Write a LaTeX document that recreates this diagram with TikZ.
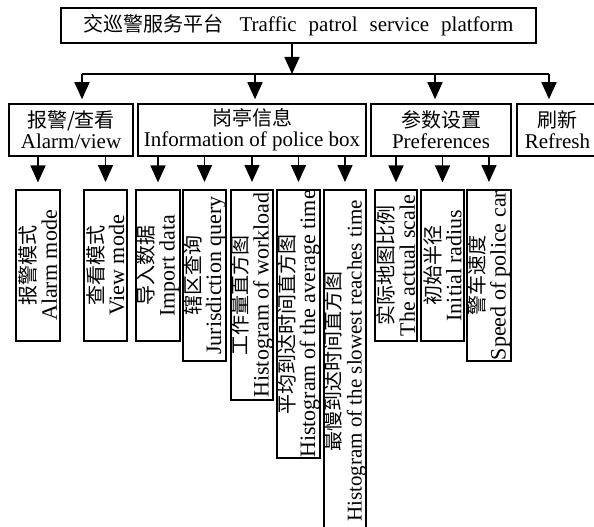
\documentclass[tikz,border=0pt]{standalone}
\usepackage{fontspec}
\setmainfont{Liberation Serif}
\newfontfamily\cjk{Noto Sans CJK SC}
\usetikzlibrary{arrows.meta}
\newcommand\zh[1]{{\cjk\fontsize{20}{21}\selectfont #1}}
\begin{document}
\begin{tikzpicture}[x=1pt,y=-1pt,
  box/.style={draw, line width=1.6pt, inner sep=0pt, align=center,
    font=\fontsize{21}{21}\selectfont},
  thickbox/.style={box, line width=2pt},
  thinbox/.style={box, line width=1.2pt},
  vbox/.style={rotate=90, font=\fontsize{22}{21}\selectfont},
  arr/.style={line width=1.6pt, -{Triangle[width=15pt,length=17pt]}},
  bar/.style={line width=1.6pt}
]
\useasboundingbox (0,0) rectangle (594,527);

% level 0
\node[thickbox, minimum width=475pt, minimum height=35pt] (top) at (298.5,25.5)
  {\zh{交巡警服务平台}\hspace{16pt}{\spaceskip=12pt Traffic patrol service platform}};

% level 1
\node[box, minimum width=124pt, minimum height=52pt] (l2a) at (71,130)
  {\zh{报警/查看}\\Alarm/view};
\node[box, minimum width=228pt, minimum height=52pt] (l2b) at (252,130)
  {\zh{岗亭信息}\\Information of police box};
\node[box, minimum width=140pt, minimum height=52pt] (l2c) at (441,130)
  {\zh{参数设置}\\Preferences};
\node[box, minimum width=81pt, minimum height=52pt] (l2d) at (557.5,130)
  {\zh{刷新}\\Refresh};

% level 2 (rotated)
\node[thinbox, vbox, minimum width=151pt, minimum height=44pt] (l3a) at (38,265.5)
  {\zh{报警模式}\\Alarm mode};
\node[thickbox, vbox, minimum width=151pt, minimum height=43pt] (l3b) at (105.5,265.5)
  {\zh{查看模式}\\View mode};
\node[thinbox, vbox, minimum width=151pt, minimum height=44pt] (l3c) at (158,265.5)
  {\zh{导入数据}\\Import data};
\node[thickbox, vbox, minimum width=171pt, minimum height=43pt] (l3d) at (204.5,275.5)
  {\zh{辖区查询}\\Jurisdiction query};
\node[thickbox, vbox, minimum width=210pt, minimum height=42pt] (l3e) at (252,295)
  {\zh{工作量直方图}\\Histogram of workload};
\node[thickbox, vbox, minimum width=268pt, minimum height=43pt] (l3f) at (298.5,324)
  {\zh{平均到达时间直方图}\\Histogram of the average time};
\node[thickbox, vbox, minimum width=342pt, minimum height=42pt,
  font=\fontsize{21}{21}\selectfont] (l3g) at (345,361)
  {\zh{最慢到达时间直方图}\\Histogram of the slowest reaches time};
\node[thinbox, vbox, minimum width=151pt, minimum height=42pt] (l3h) at (396,265.5)
  {\zh{实际地图比例}\\The actual scale};
\node[thinbox, vbox, minimum width=151pt, minimum height=43pt] (l3i) at (442.5,265.5)
  {\zh{初始半径}\\Initial radius};
\node[thickbox, vbox, minimum width=171pt, minimum height=44pt] (l3j) at (489,275.5)
  {\zh{警车速度}\\Speed of police car};

% connectors level 0 -> 1
\coordinate (hub) at (292,74);
\coordinate (ba) at (82,74);
\coordinate (bb) at (255,74);
\coordinate (bc) at (435,74);
\coordinate (bd) at (549,74);
\draw[arr] (top.south -| hub) -- (hub);
\draw[bar] (ba) -- (bd);
\draw[arr, shorten >=4pt] (ba) -- (ba |- l2a.north);
\draw[arr, shorten >=4pt] (bb) -- (bb |- l2b.north);
\draw[arr, shorten >=4pt] (bc) -- (bc |- l2c.north);
\draw[arr, shorten >=4pt] (bd) -- (bd |- l2d.north);

% connectors level 1 -> 2
\foreach \p/\c in {l2a/l3a, l2a/l3b, l2b/l3c, l2b/l3d, l2b/l3e, l2b/l3f, l2b/l3g, l2c/l3h, l2c/l3i, l2c/l3j}
  \draw[arr, shorten >=7pt] (\p.south -| \c.center) -- (\c.east);
\end{tikzpicture}
\end{document}
